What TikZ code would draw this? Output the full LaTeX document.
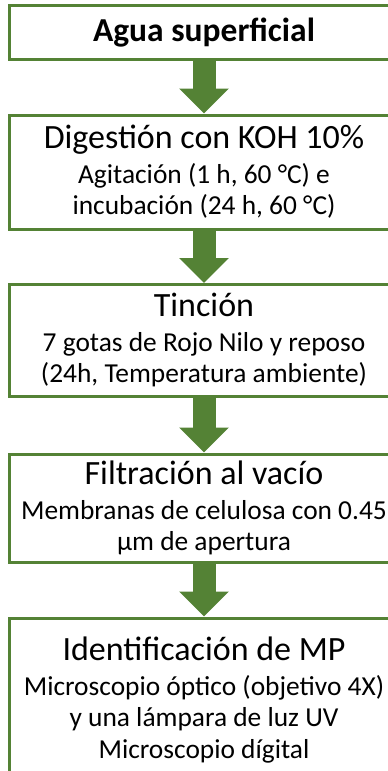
\documentclass[tikz,border=0pt]{standalone}
\usepackage{fontspec}
\setmainfont{Carlito}
\usetikzlibrary{arrows.meta}

\definecolor{verde}{HTML}{548235}
\newcommand{\titulo}{\fontsize{34}{40}\selectfont}
\newcommand{\cuerpo}{\fontsize{27.4}{31.5}\selectfont}

\tikzstyle{b} = [align=center, rectangle, draw=verde, fill=white, text centered, line width=3pt, minimum width=390pt, inner sep=0pt, font=\cuerpo]
\tikzstyle{flecha} = [draw=verde, line width=23pt, -{Triangle[width=48pt, length=25pt]}]

\begin{document}
\begin{tikzpicture}[auto]
\useasboundingbox (0,0) rectangle (388pt,-771pt);
\clip (0,0) rectangle (388pt,-771pt);
\node [b, minimum height=54pt] (agua) at (204pt,-32.5pt) {\fontsize{33.5}{38}\selectfont\bfseries Agua superficial};
\node [b, minimum height=114pt, below of=agua, node distance=139.5pt] (digestion) {{\titulo Digestión con KOH 10\%}\\[3pt]Agitación (1 h, 60 °C) e\\incubación (24 h, 60 °C)};
\node [b, minimum height=112pt, below of=digestion, node distance=168.5pt] (tincion) {{\titulo Tinción}\\[3pt]7 gotas de Rojo Nilo y reposo\\(24h, Temperatura ambiente)};
\node [b, minimum height=108pt, below of=tincion, node distance=167.5pt] (filtracion) {{\titulo Filtración al vacío}\\[3pt]Membranas de celulosa con 0.45\\µm de apertura};
\node [b, minimum height=164pt, below of=filtracion, node distance=192pt] (identificacion) {{\titulo Identificación de MP}\\[3pt]Microscopio óptico (objetivo 4X)\\y una lámpara de luz UV\\Microscopio dígital};
\draw [flecha] (agua) -- (digestion);
\draw [flecha] (digestion) -- (tincion);
\draw [flecha] (tincion) -- (filtracion);
\draw [flecha] (filtracion) -- (identificacion);
\end{tikzpicture}
\end{document}
